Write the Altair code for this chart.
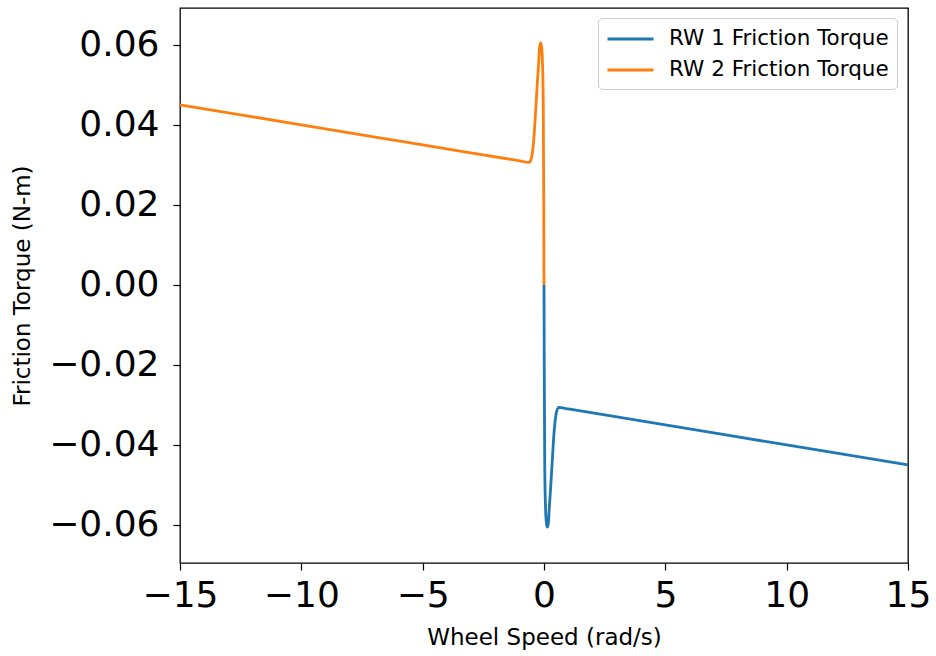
import altair as alt
import pandas as pd

# RW 1 (positive wheel speeds)
rw1_speed = [0.0, 0.01, 0.03, 0.06, 0.10, 0.14, 0.18, 0.22, 0.27, 0.32, 0.36, 0.40,
             0.45, 0.50, 0.55, 0.60, 1.0, 5.0, 10.0, 15.0]
rw1_torque = [0.0, -0.020, -0.045, -0.055, -0.0595, -0.0605, -0.0595, -0.0555, -0.0510,
              -0.0460, -0.0420, -0.0380, -0.0345, -0.0322, -0.0311, -0.0306, -0.0310,
              -0.0350, -0.0400, -0.0450]

# RW 2 (negative wheel speeds)
rw2_speed = [0.0, -0.01, -0.03, -0.06, -0.10, -0.14, -0.18, -0.22, -0.27, -0.32, -0.36, -0.40,
             -0.45, -0.50, -0.55, -0.60, -1.0, -5.0, -10.0, -15.0]
rw2_torque = [0.0, 0.020, 0.045, 0.055, 0.0595, 0.0605, 0.0595, 0.0555, 0.0510,
              0.0460, 0.0420, 0.0380, 0.0345, 0.0322, 0.0311, 0.0306, 0.0310,
              0.0350, 0.0400, 0.0450]

series_names = ["RW 1 Friction Torque", "RW 2 Friction Torque"]
series_colors = ["#1f77b4", "#ff7f0e"]

x_ticks = [-15, -10, -5, 0, 5, 10, 15]
y_ticks = [-0.06, -0.04, -0.02, 0.0, 0.02, 0.04, 0.06]

rows = []
for i, (s, t) in enumerate(zip(rw1_speed, rw1_torque)):
    rows.append({"speed": s, "torque": t, "series": series_names[0], "ord": i})
for i, (s, t) in enumerate(zip(rw2_speed, rw2_torque)):
    rows.append({"speed": s, "torque": t, "series": series_names[1], "ord": i})
df = pd.DataFrame(rows)

FONT = "DejaVu Sans"

chart = alt.Chart(df).mark_line(strokeWidth=2.8, interpolate="monotone").encode(
    x=alt.X("speed:Q",
            scale=alt.Scale(domain=[-15, 15], nice=False, zero=False),
            axis=alt.Axis(title="Wheel Speed (rad/s)", values=x_ticks, format="d",
                          grid=False, domain=False, tickColor="black", tickSize=7,
                          tickWidth=1.2, labelFontSize=36, labelFont=FONT,
                          labelColor="black", labelPadding=8, labelFlush=False,
                          titleFont=FONT, titleFontSize=23, titleFontWeight="normal",
                          titleColor="black", titlePadding=13)),
    y=alt.Y("torque:Q",
            scale=alt.Scale(domain=[-0.0695, 0.0692], nice=False, zero=False),
            axis=alt.Axis(title="Friction Torque (N-m)", values=y_ticks, format=".2f",
                          grid=False, domain=False, tickColor="black", tickSize=7,
                          tickWidth=1.2, labelFontSize=36, labelFont=FONT,
                          labelColor="black", labelPadding=14, labelFlush=False,
                          titleFont=FONT, titleFontSize=23, titleFontWeight="normal",
                          titleColor="black", titlePadding=14)),
    color=alt.Color("series:N",
                    scale=alt.Scale(domain=series_names, range=series_colors),
                    legend=alt.Legend(title=None, orient="none", legendX=418, legendY=10,
                                      symbolType="M-1,0L3,0", symbolSize=529,
                                      symbolStrokeWidth=2.8, labelFontSize=21.5,
                                      labelFont=FONT, labelColor="black", labelLimit=400,
                                      labelOffset=37, padding=8, rowPadding=7,
                                      strokeColor="#cccccc", fillColor="white",
                                      cornerRadius=4)),
    order="ord:Q",
).properties(
    width=728, height=555,
    padding={"left": 180, "top": 8, "right": 28, "bottom": 93},
    autosize=alt.AutoSizeParams(type="none"),
).configure_view(stroke="black", strokeWidth=1.3)

chart.save("out.html", embed_options={"renderer": "svg", "actions": False})
